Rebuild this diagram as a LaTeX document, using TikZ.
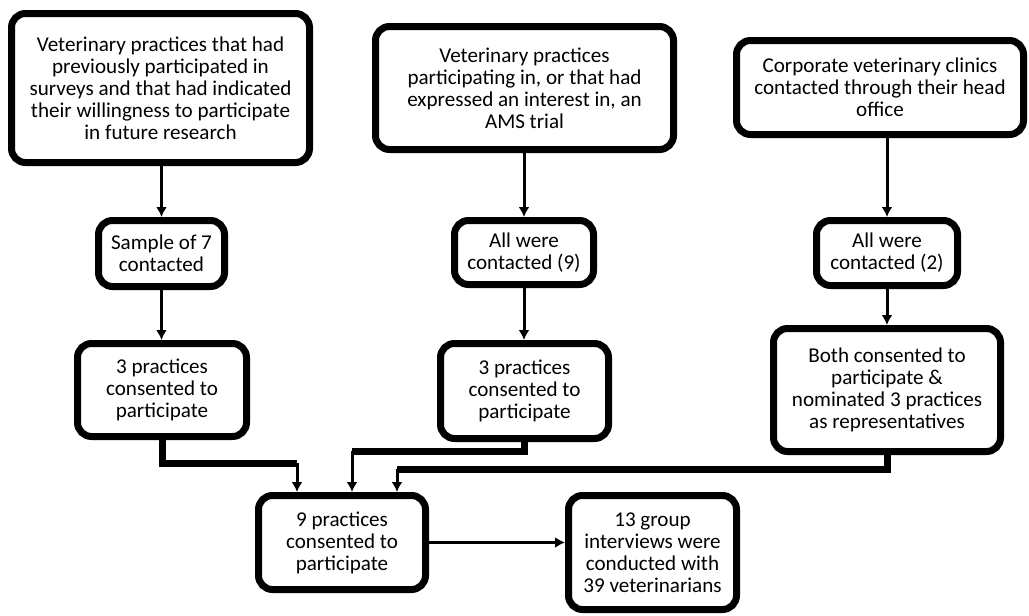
\documentclass[tikz,border=0pt]{standalone}
\usepackage{fontspec}
\setmainfont{Carlito}
\usetikzlibrary{arrows.meta}

\begin{document}
\begin{tikzpicture}[x=1pt,y=-1pt,>={Latex[length=10pt,width=11pt]},
    box/.style={draw,line width=7pt,rounded corners=14pt,align=center,inner sep=0pt,
        font=\fontsize{21.1}{22}\selectfont},
    flow/.style={line width=3pt},
    feed/.style={line width=7pt}]
    \useasboundingbox (0,0) rectangle (1029,616);
    \node[box,minimum width=298,minimum height=149] (src1) at (160.5,88) {Veterinary practices that had\\previously participated in\\surveys and that had indicated\\their willingness to participate\\in future research};
    \node[box,minimum width=298,minimum height=123] (src2) at (524.5,88) {Veterinary practices\\participating in, or that had\\expressed an interest in, an\\AMS trial};
    \node[box,minimum width=287,minimum height=94] (src3) at (880,87.5) {Corporate veterinary clinics\\contacted through their head\\office};
    \node[box,minimum width=126,minimum height=66] (con1) at (161.5,253.5) {Sample of 7\\contacted};
    \node[box,minimum width=139,minimum height=64] (con2) at (524,252.5) {All were\\contacted (9)};
    \node[box,minimum width=141,minimum height=65] (con3) at (887,253) {All were\\contacted (2)};
    \node[box,minimum width=169,minimum height=93] (agr1) at (162,390) {3 practices\\consented to\\participate};
    \node[box,minimum width=168,minimum height=95] (agr2) at (524.5,391) {3 practices\\consented to\\participate};
    \node[box,minimum width=227,minimum height=123] (agr3) at (887,390) {Both consented to\\participate \&\\nominated 3 practices\\as representatives};
    \node[box,minimum width=167,minimum height=94] (total) at (342,542.5) {9 practices\\consented to\\participate};
    \node[box,minimum width=168,minimum height=114] (interv) at (652.5,552.5) {13 group\\interviews were\\conducted with\\39 veterinarians};
    \coordinate (j1) at (297,463);
    \coordinate (j2) at (352,451);
    \coordinate (j3) at (397,469);
    \draw[flow,->] (src1.south -| con1) -- (con1.north);
    \draw[flow,->] (src2.south -| con2) -- (con2.north);
    \draw[flow,->] (src3.south -| con3) -- (con3.north);
    \draw[flow,->] (con1.south) -- (con1.south |- agr1.north);
    \draw[flow,->] (con2.south) -- (con2.south |- agr2.north);
    \draw[flow,->] (con3.south) -- (con3.south |- agr3.north);
    \draw[feed] (agr1.south) |- (j1);
    \draw[feed] (agr2.south) |- (j2);
    \draw[feed] (agr3.south) |- (j3);
    \draw[flow,->] (j1) -- (j1 |- total.north);
    \draw[flow,->] (j2) -- (j2 |- total.north);
    \draw[flow,->] (j3) -- (j3 |- total.north);
    \draw[flow,->] (total.east) -- (total.east -| interv.west);
\end{tikzpicture}
\end{document}
